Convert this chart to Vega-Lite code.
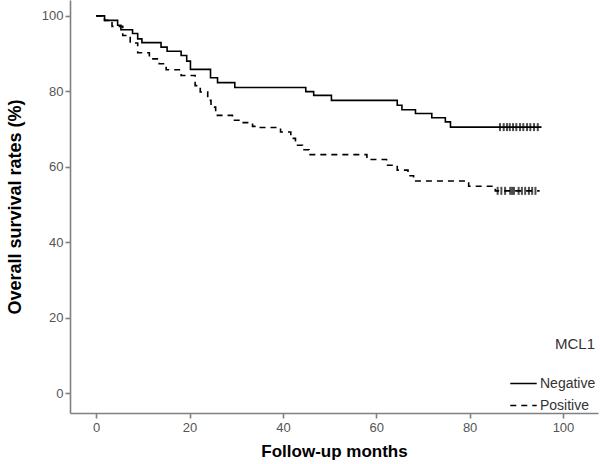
{
  "$schema": "https://vega.github.io/schema/vega-lite/v6.json",
  "autosize": {"type": "none"},
  "padding": {"left": 70, "top": 0, "right": 2, "bottom": 51},
  "width": 528,
  "height": 413,
  "background": "white",
  "config": {
    "view": {"stroke": null},
    "font": "Liberation Sans",
    "axis": {
      "grid": false,
      "domainColor": "#808080",
      "domainWidth": 1.6,
      "tickColor": "#808080",
      "tickWidth": 1.6,
      "tickSize": 5,
      "labelColor": "#555555",
      "labelFontSize": 13,
      "titleColor": "#000000",
      "titleFontWeight": "bold"
    }
  },
  "datasets": {
    "curve": [
      {"time": 0, "surv": 100, "group": "Negative"},
      {"time": 1.8, "surv": 98.8, "group": "Negative"},
      {"time": 4.6, "surv": 97.5, "group": "Negative"},
      {"time": 5.3, "surv": 96.3, "group": "Negative"},
      {"time": 7.8, "surv": 95.3, "group": "Negative"},
      {"time": 8.9, "surv": 93.9, "group": "Negative"},
      {"time": 9.8, "surv": 92.9, "group": "Negative"},
      {"time": 13.9, "surv": 91.7, "group": "Negative"},
      {"time": 15.2, "surv": 90.6, "group": "Negative"},
      {"time": 18.2, "surv": 89.5, "group": "Negative"},
      {"time": 19.4, "surv": 88.0, "group": "Negative"},
      {"time": 20.2, "surv": 85.8, "group": "Negative"},
      {"time": 24.5, "surv": 83.6, "group": "Negative"},
      {"time": 26.0, "surv": 82.3, "group": "Negative"},
      {"time": 29.7, "surv": 81.0, "group": "Negative"},
      {"time": 44.9, "surv": 79.9, "group": "Negative"},
      {"time": 46.6, "surv": 78.9, "group": "Negative"},
      {"time": 50.4, "surv": 77.6, "group": "Negative"},
      {"time": 64.5, "surv": 76.3, "group": "Negative"},
      {"time": 65.5, "surv": 75.1, "group": "Negative"},
      {"time": 68.4, "surv": 74.1, "group": "Negative"},
      {"time": 71.9, "surv": 73.0, "group": "Negative"},
      {"time": 74.8, "surv": 71.9, "group": "Negative"},
      {"time": 75.9, "surv": 70.5, "group": "Negative"},
      {"time": 95.4, "surv": 70.5, "group": "Negative"},
      {"time": 0, "surv": 100, "group": "Positive"},
      {"time": 1.8, "surv": 98.8, "group": "Positive"},
      {"time": 3.4, "surv": 97.2, "group": "Positive"},
      {"time": 5.7, "surv": 94.8, "group": "Positive"},
      {"time": 7.3, "surv": 92.8, "group": "Positive"},
      {"time": 8.9, "surv": 90.2, "group": "Positive"},
      {"time": 11.4, "surv": 88.6, "group": "Positive"},
      {"time": 13.5, "surv": 87.3, "group": "Positive"},
      {"time": 15.0, "surv": 85.7, "group": "Positive"},
      {"time": 18.2, "surv": 84.2, "group": "Positive"},
      {"time": 21.2, "surv": 81.5, "group": "Positive"},
      {"time": 22.3, "surv": 79.8, "group": "Positive"},
      {"time": 23.9, "surv": 77.6, "group": "Positive"},
      {"time": 24.6, "surv": 75.8, "group": "Positive"},
      {"time": 25.6, "surv": 73.6, "group": "Positive"},
      {"time": 29.2, "surv": 72.3, "group": "Positive"},
      {"time": 31.3, "surv": 71.7, "group": "Positive"},
      {"time": 33.5, "surv": 70.7, "group": "Positive"},
      {"time": 34.9, "surv": 70.4, "group": "Positive"},
      {"time": 39.5, "surv": 69.2, "group": "Positive"},
      {"time": 41.7, "surv": 67.5, "group": "Positive"},
      {"time": 42.7, "surv": 65.7, "group": "Positive"},
      {"time": 44.2, "surv": 64.5, "group": "Positive"},
      {"time": 45.6, "surv": 63.2, "group": "Positive"},
      {"time": 58.0, "surv": 61.9, "group": "Positive"},
      {"time": 62.2, "surv": 60.4, "group": "Positive"},
      {"time": 64.5, "surv": 59.1, "group": "Positive"},
      {"time": 66.8, "surv": 57.6, "group": "Positive"},
      {"time": 68.0, "surv": 56.2, "group": "Positive"},
      {"time": 79.8, "surv": 54.8, "group": "Positive"},
      {"time": 85.5, "surv": 53.6, "group": "Positive"},
      {"time": 95.0, "surv": 53.6, "group": "Positive"}
    ],
    "censor": [
      {"time": 86.5, "surv": 70.5, "group": "Negative"},
      {"time": 87.3, "surv": 70.5, "group": "Negative"},
      {"time": 88.0, "surv": 70.5, "group": "Negative"},
      {"time": 88.6, "surv": 70.5, "group": "Negative"},
      {"time": 89.3, "surv": 70.5, "group": "Negative"},
      {"time": 90.0, "surv": 70.5, "group": "Negative"},
      {"time": 90.8, "surv": 70.5, "group": "Negative"},
      {"time": 91.5, "surv": 70.5, "group": "Negative"},
      {"time": 92.3, "surv": 70.5, "group": "Negative"},
      {"time": 93.0, "surv": 70.5, "group": "Negative"},
      {"time": 93.8, "surv": 70.5, "group": "Negative"},
      {"time": 94.6, "surv": 70.5, "group": "Negative"},
      {"time": 86.0, "surv": 53.6, "group": "Positive"},
      {"time": 86.8, "surv": 53.6, "group": "Positive"},
      {"time": 87.6, "surv": 53.6, "group": "Positive"},
      {"time": 88.7, "surv": 53.6, "group": "Positive"},
      {"time": 89.1, "surv": 53.6, "group": "Positive"},
      {"time": 89.5, "surv": 53.6, "group": "Positive"},
      {"time": 90.5, "surv": 53.6, "group": "Positive"},
      {"time": 91.2, "surv": 53.6, "group": "Positive"},
      {"time": 91.9, "surv": 53.6, "group": "Positive"},
      {"time": 92.7, "surv": 53.6, "group": "Positive"},
      {"time": 93.4, "surv": 53.6, "group": "Positive"},
      {"time": 94.1, "surv": 53.6, "group": "Positive"}
    ]
  },
  "layer": [
    {
      "data": {"name": "curve"},
      "mark": {"type": "line", "interpolate": "step-after", "color": "black", "strokeWidth": 1.6},
      "encoding": {
        "x": {
          "field": "time", "type": "quantitative",
          "scale": {"domain": [-5.6, 107.5], "nice": false, "zero": false},
          "axis": {"values": [0, 20, 40, 60, 80, 100], "title": "Follow-up months", "titleFontSize": 17, "labelPadding": 3, "titlePadding": 9}
        },
        "y": {
          "field": "surv", "type": "quantitative",
          "scale": {"domain": [-5.3, 104.2], "nice": false, "zero": false},
          "axis": {"values": [0, 20, 40, 60, 80, 100], "title": "Overall survival rates (%)", "titleFontSize": 18, "labelPadding": 2, "titlePadding": 17}
        },
        "strokeDash": {
          "field": "group", "type": "nominal",
          "scale": {"domain": ["Negative", "Positive"], "range": [[1, 0], [6, 5]]},
          "legend": {
            "title": "MCL1",
            "orient": "none",
            "legendX": 439,
            "legendY": 337,
            "titleAnchor": "end",
            "titleFontSize": 15,
            "titleFontWeight": "normal",
            "titleColor": "#333333",
            "titlePadding": 17,
            "labelFontSize": 14,
            "labelColor": "#333333",
            "labelOffset": 2,
            "symbolSize": 700,
            "symbolStrokeWidth": 1.6,
            "symbolStrokeColor": "black",
            "rowPadding": -8
          }
        }
      }
    },
    {
      "data": {"name": "censor"},
      "mark": {"type": "tick", "orient": "vertical", "color": "black", "size": 8, "thickness": 2},
      "encoding": {
        "x": {"field": "time", "type": "quantitative"},
        "y": {"field": "surv", "type": "quantitative"}
      }
    }
  ]
}
